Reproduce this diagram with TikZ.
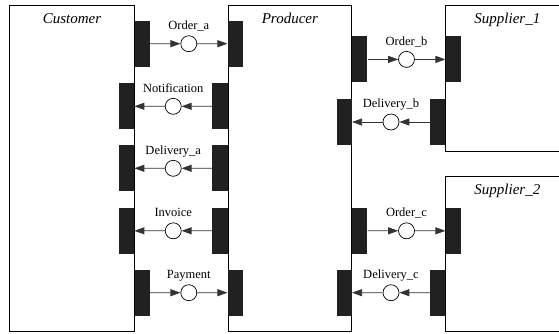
\documentclass[tikz,border=0pt]{standalone}
\usepackage{fontspec}
\setmainfont{Liberation Serif}
\newfontfamily\diagfont{Liberation Serif}
\usetikzlibrary{arrows.meta,positioning,calc}
\definecolor{portfill}{gray}{0.13}
\definecolor{wire}{gray}{0.2}

\begin{document}
\begin{tikzpicture}[
		x=1pt, y=-1pt,
		party/.style={draw, line width=0.8pt, inner sep=0, minimum height=326.2pt},
		title/.style={font=\diagfont\fontsize{15}{17}\selectfont\itshape, inner sep=0},
		port/.style={fill=portfill, draw=none, inner sep=0, minimum width=15.3pt, minimum height=46pt},
		msg/.style={circle, draw, line width=0.7pt, fill=white, inner sep=0, minimum size=16pt},
		msgtext/.style={font=\diagfont\fontsize{12.5}{14}\selectfont, inner sep=0, text depth=0pt},
		flow/.style={-{Triangle[length=10pt, width=7pt]}, draw=wire, line width=0.8pt}
	]
		\clip (0,0) rectangle (559,333);

		% the four parties
		\node[party, minimum width=125.4pt] (customer) at (72,168.4) {};
		\node[party, minimum width=123.7pt] (producer) at (289.85,168.4) {};
		\node[party, minimum width=123.3pt, minimum height=146.4pt] (supplier1) at (507.35,78.5) {};
		\node[party, minimum width=123.3pt, minimum height=154.8pt] (supplier2) at (507.35,254.1) {};

		\node[title, below=8pt of customer.north] (customer-t) {Customer};
		\node[title, below=8pt of producer.north] (producer-t) {Producer};
		\node[title, below=8pt of supplier1.north] (supplier1-t) {Supplier\_1};
		\node[title, below=8pt of supplier2.north] (supplier2-t) {Supplier\_2};

		% ports, customer <-> producer
		\node[port] (orderA-out) at (142.3,43.7) {};
		\node[port] (orderA-in) at (235.3,43.7) {};
		\node[port] (notif-out) at (220,106.3) {};
		\node[port] (notif-in) at (126.5,106.3) {};
		\node[port] (delivA-out) at (220,168.3) {};
		\node[port] (delivA-in) at (126.5,168.3) {};
		\node[port] (invoice-out) at (220,230.8) {};
		\node[port] (invoice-in) at (126.5,230.8) {};
		\node[port] (payment-out) at (142.3,292.7) {};
		\node[port] (payment-in) at (235.3,292.7) {};

		% ports, producer <-> suppliers
		\node[port] (orderB-out) at (359.7,59.4) {};
		\node[port] (orderB-in) at (453.3,59.4) {};
		\node[port] (delivB-out) at (437.8,122) {};
		\node[port] (delivB-in) at (344.2,122) {};
		\node[port] (orderC-out) at (359.7,230.8) {};
		\node[port] (orderC-in) at (453.3,230.8) {};
		\node[port] (delivC-out) at (437.8,292.7) {};
		\node[port] (delivC-in) at (344.2,292.7) {};

		% message places
		\node[msg] (orderA) at ($(orderA-out.east)!0.5!(orderA-in.west)$) {};
		\node[msg] (notif) at ($(notif-out.west)!0.5!(notif-in.east)$) {};
		\node[msg] (delivA) at ($(delivA-out.west)!0.5!(delivA-in.east)$) {};
		\node[msg] (invoice) at ($(invoice-out.west)!0.5!(invoice-in.east)$) {};
		\node[msg] (payment) at ($(payment-out.east)!0.5!(payment-in.west)$) {};
		\node[msg] (orderB) at ($(orderB-out.east)!0.5!(orderB-in.west)$) {};
		\node[msg] (delivB) at ($(delivB-out.west)!0.5!(delivB-in.east)$) {};
		\node[msg] (orderC) at ($(orderC-out.east)!0.5!(orderC-in.west)$) {};
		\node[msg] (delivC) at ($(delivC-out.west)!0.5!(delivC-in.east)$) {};

		\node[msgtext, above=5.7pt of orderA] (orderA-t) {Order\_a};
		\node[msgtext, above=5.7pt of notif] (notif-t) {Notification};
		\node[msgtext, above=5.7pt of delivA] (delivA-t) {Delivery\_a};
		\node[msgtext, above=5.7pt of invoice] (invoice-t) {Invoice};
		\node[msgtext, above=5.7pt of payment] (payment-t) {Payment};
		\node[msgtext, above=5.7pt of orderB] (orderB-t) {Order\_b};
		\node[msgtext, above=5.7pt of delivB] (delivB-t) {Delivery\_b};
		\node[msgtext, above=5.7pt of orderC] (orderC-t) {Order\_c};
		\node[msgtext, above=5.7pt of delivC] (delivC-t) {Delivery\_c};

		% rightward flows
		\draw[flow] (orderA-out.east) -- (orderA);
		\draw[flow] (orderA) -- (orderA-in.west);
		\draw[flow] (payment-out.east) -- (payment);
		\draw[flow] (payment) -- (payment-in.west);
		\draw[flow] (orderB-out.east) -- (orderB);
		\draw[flow] (orderB) -- (orderB-in.west);
		\draw[flow] (orderC-out.east) -- (orderC);
		\draw[flow] (orderC) -- (orderC-in.west);

		% leftward flows
		\draw[flow] (notif-out.west) -- (notif);
		\draw[flow] (notif) -- (notif-in.east);
		\draw[flow] (delivA-out.west) -- (delivA);
		\draw[flow] (delivA) -- (delivA-in.east);
		\draw[flow] (invoice-out.west) -- (invoice);
		\draw[flow] (invoice) -- (invoice-in.east);
		\draw[flow] (delivB-out.west) -- (delivB);
		\draw[flow] (delivB) -- (delivB-in.east);
		\draw[flow] (delivC-out.west) -- (delivC);
		\draw[flow] (delivC) -- (delivC-in.east);
	\end{tikzpicture}
\end{document}
